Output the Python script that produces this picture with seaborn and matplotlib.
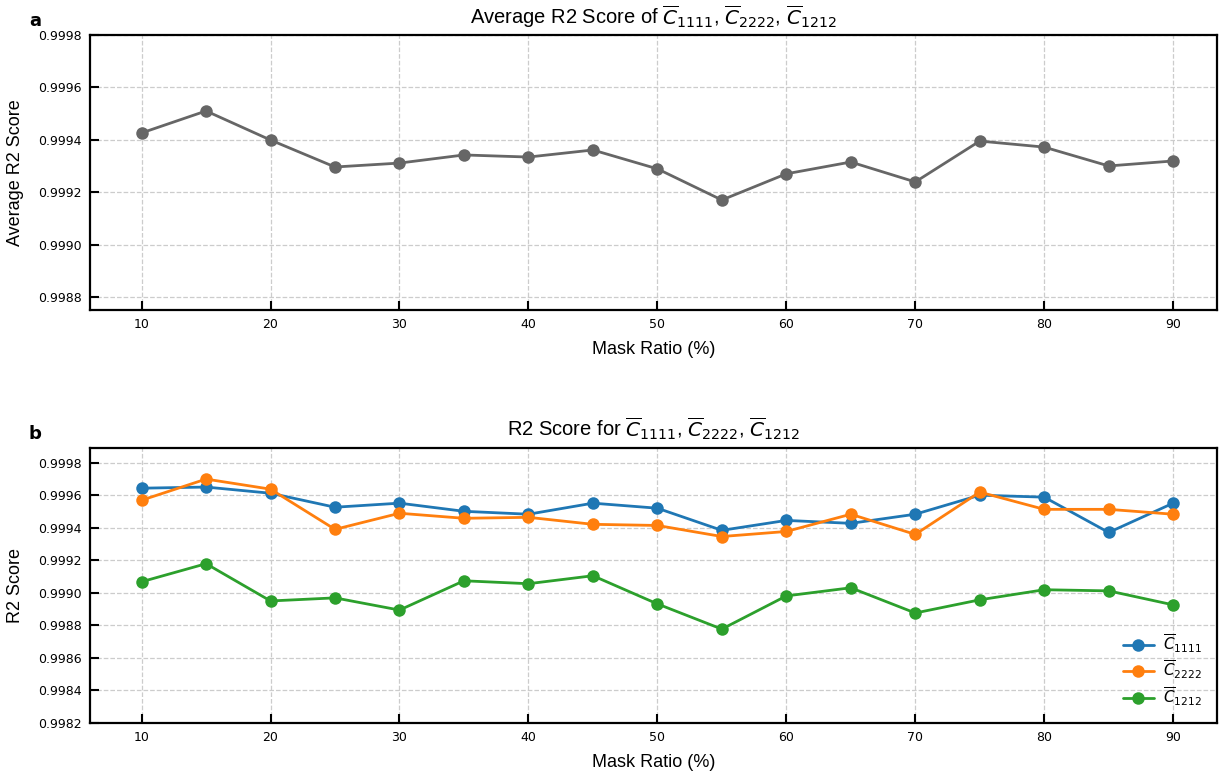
import numpy as np
import pandas as pd
import matplotlib
matplotlib.use("Agg")
import matplotlib.pyplot as plt
import seaborn as sns

mask_ratio = [10, 15, 20, 25, 30, 35, 40, 45, 50, 55, 60, 65, 70, 75, 80, 85, 90]

avg_r2 = [0.999426, 0.999510, 0.999399, 0.999296, 0.999311, 0.999342, 0.999334,
          0.999361, 0.999289, 0.999170, 0.999270, 0.999315, 0.999239, 0.999395,
          0.999372, 0.999300, 0.999319]

c1111 = [0.999643, 0.999650, 0.999612, 0.999526, 0.999551, 0.999501, 0.999483,
         0.999551, 0.999520, 0.999384, 0.999445, 0.999427, 0.999483, 0.999600,
         0.999588, 0.999371, 0.999551]
c2222 = [0.999569, 0.999699, 0.999637, 0.999390, 0.999489, 0.999458, 0.999464,
         0.999421, 0.999414, 0.999346, 0.999377, 0.999483, 0.999359, 0.999619,
         0.999513, 0.999513, 0.999483]
c1212 = [0.999068, 0.999179, 0.998950, 0.998969, 0.998894, 0.999074, 0.999056,
         0.999105, 0.998932, 0.998777, 0.998981, 0.999031, 0.998876, 0.998957,
         0.999019, 0.999012, 0.998926]

series_labels = [r"$\overline{C}_{1111}$", r"$\overline{C}_{2222}$", r"$\overline{C}_{1212}$"]
top_title = r"Average R2 Score of $\overline{C}_{1111}$, $\overline{C}_{2222}$, $\overline{C}_{1212}$"
bottom_title = r"R2 Score for $\overline{C}_{1111}$, $\overline{C}_{2222}$, $\overline{C}_{1212}$"
x_ticks = [10, 20, 30, 40, 50, 60, 70, 80, 90]
y_ticks_top = [0.9988, 0.9990, 0.9992, 0.9994, 0.9996, 0.9998]
y_ticks_bot = [0.9982, 0.9984, 0.9986, 0.9988, 0.9990, 0.9992, 0.9994, 0.9996, 0.9998]

sns.set_theme(style="white")
plt.rcParams["font.family"] = ["Liberation Sans", "DejaVu Sans"]
plt.rcParams["mathtext.fontset"] = "dejavusans"
plt.rcParams["text.color"] = "black"
plt.rcParams["axes.labelcolor"] = "black"
plt.rcParams["xtick.color"] = "black"
plt.rcParams["ytick.color"] = "black"

fig = plt.figure(figsize=(12.25, 7.77), dpi=100)
W, H = 1225, 777
ax1 = fig.add_axes([90 / W, 1 - 310 / H, (1217 - 90) / W, (310 - 35) / H])
ax2 = fig.add_axes([90 / W, 1 - 723 / H, (1217 - 90) / W, (723 - 448) / H])

df_top = pd.DataFrame({"Mask Ratio (%)": mask_ratio, "Average R2 Score": avg_r2})
sns.lineplot(data=df_top, x="Mask Ratio (%)", y="Average R2 Score", ax=ax1,
             color="#666666", marker="o", markersize=9, linewidth=2,
             markeredgewidth=0)

df_bot = pd.DataFrame({
    "Mask Ratio (%)": mask_ratio * 3,
    "R2 Score": c1111 + c2222 + c1212,
    "Series": [series_labels[0]] * len(mask_ratio) + [series_labels[1]] * len(mask_ratio)
              + [series_labels[2]] * len(mask_ratio),
})
sns.lineplot(data=df_bot, x="Mask Ratio (%)", y="R2 Score", hue="Series", ax=ax2,
             palette=["#1f77b4", "#ff7f0e", "#2ca02c"], marker="o", markersize=9,
             linewidth=2, markeredgewidth=0)

for ax in (ax1, ax2):
    ax.set_xlim(6, 93.4)
    ax.set_xticks(x_ticks)
    ax.set_xticklabels([str(v) for v in x_ticks], family="DejaVu Sans")
    ax.grid(True, linestyle="--", color="#cccccc", linewidth=0.9)
    ax.tick_params(axis="both", which="major", direction="in", length=6.5, width=1.5,
                   labelsize=9, colors="black", pad=6, bottom=True, left=True,
                   top=False, right=False)
    for sp in ax.spines.values():
        sp.set_linewidth(1.6)
        sp.set_color("black")
    ax.set_xlabel("Mask Ratio (%)", fontsize=13, labelpad=7, color="black")

ax1.set_ylim(0.99875, 0.9998)
ax1.set_yticks(y_ticks_top)
ax1.set_yticklabels([f"{v:.4f}" for v in y_ticks_top], family="DejaVu Sans")
ax1.set_ylabel("Average R2 Score", fontsize=13, labelpad=10, color="black")

ax2.set_ylim(0.9982, 0.99989)
ax2.set_yticks(y_ticks_bot)
ax2.set_yticklabels([f"{v:.4f}" for v in y_ticks_bot], family="DejaVu Sans")
ax2.set_ylabel("R2 Score", fontsize=13, labelpad=10, color="black")

ax1.set_title(top_title, fontsize=14.5, pad=8, color="black")
ax2.set_title(bottom_title, fontsize=14.5, pad=8, color="black")

fig.text(29 / W, 1 - 21 / H, "a", fontsize=13, fontweight="bold", va="center",
         family="DejaVu Sans", color="black")
fig.text(29 / W, 1 - 434 / H, "b", fontsize=13, fontweight="bold", va="center",
         family="DejaVu Sans", color="black")

leg = ax2.legend(loc="lower right", frameon=False, fontsize=11, title=None,
                 handlelength=2, borderaxespad=0.6, labelspacing=0.25,
                 handletextpad=0.6)
for t in leg.get_texts():
    t.set_color("black")

fig.savefig("out.png", dpi=100)
